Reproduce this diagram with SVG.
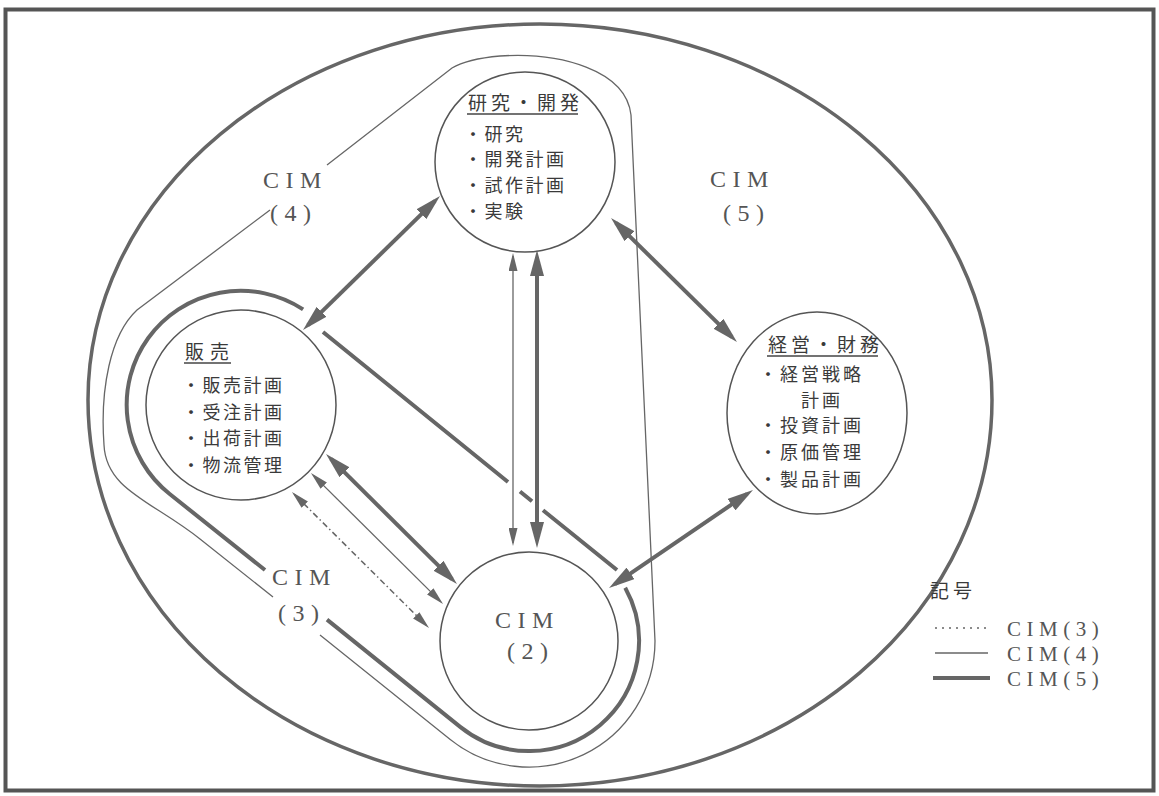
<svg xmlns="http://www.w3.org/2000/svg" width="1159" height="796" viewBox="0 0 1159 796">
<style>
.frame{fill:none;stroke:#555;stroke-width:4}
.oval{fill:none;stroke:#666;stroke-width:3.5}
.node{fill:none;stroke:#555;stroke-width:1.5}
.thin{fill:none;stroke:#666;stroke-width:1.3}
.thick{fill:none;stroke:#666;stroke-width:4}
.dot{fill:none;stroke:#666;stroke-width:1.5;stroke-dasharray:6 3 1.5 3}
.ul{stroke:#444;stroke-width:1.3}
.jp{font-family:"Noto Sans CJK JP","Noto Sans CJK SC",sans-serif;fill:#3a3a3a}
.t{font-size:19px;letter-spacing:4px}
.i{font-size:18px;letter-spacing:2.5px}
.cim{font-family:"Liberation Serif","Times New Roman",serif;font-size:24px;letter-spacing:6.5px;fill:#555}
.lg{font-family:"Liberation Serif","Times New Roman",serif;font-size:21px;letter-spacing:5.5px;fill:#555}
</style>
<defs>
<marker id="h5" markerUnits="userSpaceOnUse" markerWidth="26" markerHeight="14" refX="19" refY="7" orient="auto-start-reverse"><path d="M0,0 L26,7 L0,14 Z" fill="#666"/></marker>
<marker id="h4" markerUnits="userSpaceOnUse" markerWidth="18" markerHeight="9" refX="15" refY="4.5" orient="auto-start-reverse"><path d="M0,0 L18,4.5 L0,9 Z" fill="#666"/></marker>
</defs>
<rect class="frame" x="5.5" y="9.5" width="1148" height="781"/>
<path id="big-oval" class="oval" d="M88,400 A452,376 0 0 1 992,400 A452,386 0 0 1 88,400 Z"/>
<g id="cim4-boundary">
<path class="thin" d="M270,210 L137,310 C110,335 100,390 104,445 C106,490 153,501.5 200,539 L273,597"/>
<path class="thin" d="M320,635 L450.25,739.4 A126,126 0 0 0 655,641 L631,115 C626,70 560,52 500,56 C478,58 462,62 452,68 L327,165"/>
</g>
<g id="cim5-boundary">
<path class="thick" d="M303.1,309.4 A114,114 0 0 0 169.7,494 L265,570"/>
<path class="thick" d="M327,619.6 L460.2,726.9 A110,110 0 0 0 625.2,587.7"/>
<path class="thick" d="M323,332 L508,482 M520,491.5 L532,501.3 M543,510.2 L617,570"/>
</g>
<g id="node-kenkyu">
<circle class="node" cx="525" cy="162" r="90"/>
<text class="jp t" x="468" y="110">研究・開発</text>
<line class="ul" x1="467" y1="114" x2="578" y2="114"/>
<text class="jp i" x="464" y="141">・研究</text>
<text class="jp i" x="464" y="166">・開発計画</text>
<text class="jp i" x="464" y="192">・試作計画</text>
<text class="jp i" x="464" y="218">・実験</text>
</g>
<g id="node-hanbai">
<circle class="node" cx="241" cy="405" r="95"/>
<text class="jp t" x="185" y="359" style="letter-spacing:6px">販売</text>
<line class="ul" x1="184" y1="363" x2="231" y2="363"/>
<text class="jp i" x="182" y="392">・販売計画</text>
<text class="jp i" x="182" y="418.5">・受注計画</text>
<text class="jp i" x="182" y="445">・出荷計画</text>
<text class="jp i" x="182" y="471.5">・物流管理</text>
</g>
<g id="node-keiei">
<ellipse class="node" cx="817" cy="413" rx="90" ry="101"/>
<text class="jp t" x="768" y="352">経営・財務</text>
<line class="ul" x1="767" y1="356" x2="878" y2="356"/>
<text class="jp i" x="759" y="381" style="letter-spacing:3px">・経営戦略</text>
<text class="jp i" x="801" y="407" style="letter-spacing:3px">計画</text>
<text class="jp i" x="759" y="432" style="letter-spacing:3px">・投資計画</text>
<text class="jp i" x="759" y="459" style="letter-spacing:3px">・原価管理</text>
<text class="jp i" x="759" y="486" style="letter-spacing:3px">・製品計画</text>
</g>
<g id="node-cim2">
<circle class="node" cx="529" cy="641" r="89"/>
<text class="cim" x="495" y="628">CIM</text>
<text class="cim" x="507" y="659">(2)</text>
</g>
<g id="connectors">
<line class="thick" x1="308" y1="325.1" x2="435" y2="200.9" marker-start="url(#h5)" marker-end="url(#h5)"/>
<line class="thick" x1="616" y1="222.9" x2="732" y2="337.1" marker-start="url(#h5)" marker-end="url(#h5)"/>
<line class="thick" x1="331" y1="458.9" x2="452" y2="579.1" marker-start="url(#h5)" marker-end="url(#h5)"/>
<line class="thin" x1="313.1" y1="475.1" x2="440.9" y2="601.9" marker-start="url(#h4)" marker-end="url(#h4)"/>
<line class="dot" x1="294.1" y1="494.1" x2="426.9" y2="625.9" marker-start="url(#h4)" marker-end="url(#h4)"/>
<line class="thin" x1="513" y1="256" x2="513" y2="543" marker-start="url(#h4)" marker-end="url(#h4)"/>
<line class="thick" x1="537" y1="257" x2="537" y2="541" marker-start="url(#h5)" marker-end="url(#h5)"/>
<line class="thick" x1="614.8" y1="584.1" x2="747.2" y2="493.9" marker-start="url(#h5)" marker-end="url(#h5)"/>
</g>
<g id="region-labels">
<text class="cim" x="263" y="188">CIM</text>
<text class="cim" x="270" y="221">(4)</text>
<text class="cim" x="710" y="187">CIM</text>
<text class="cim" x="723" y="221">(5)</text>
<text class="cim" x="272" y="585">CIM</text>
<text class="cim" x="278" y="621">(3)</text>
</g>
<g id="legend">
<text class="jp" x="930" y="598" style="font-size:19px;letter-spacing:4px">記号</text>
<line x1="935" y1="628" x2="988" y2="628" style="stroke:#666;stroke-width:1.5;stroke-dasharray:2 5"/>
<line class="thin" x1="935" y1="653" x2="988" y2="653"/>
<line class="thick" x1="933" y1="678" x2="990" y2="678"/>
<text class="lg" x="1007" y="636">CIM(3)</text>
<text class="lg" x="1007" y="661">CIM(4)</text>
<text class="lg" x="1007" y="686">CIM(5)</text>
</g>
</svg>
